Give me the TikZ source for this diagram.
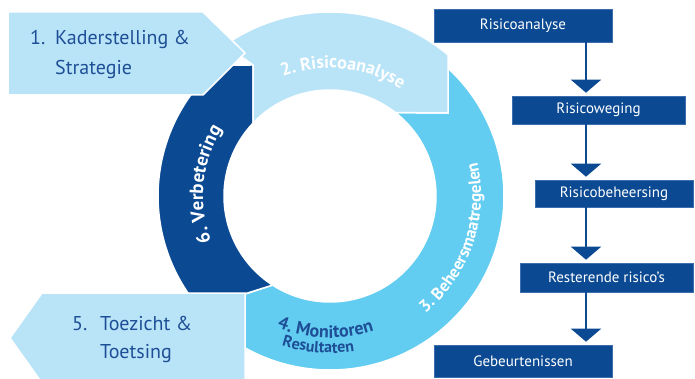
\documentclass[tikz,border=0pt]{standalone}
\usepackage{fontspec}
\setmainfont{PT Sans}
\usepackage{tikz}
\usetikzlibrary{arrows.meta,decorations.text,positioning}
\definecolor{lichtblauw}{HTML}{B9E4F8}
\definecolor{cyaan}{HTML}{62CCF1}
\definecolor{donkerblauw}{HTML}{0B4A93}
\definecolor{randblauw}{HTML}{3C6EAE}
\definecolor{tekstblauw}{HTML}{1E4F96}
\tikzset{
  segment/.style={draw=white, line width=1.5pt, line join=miter},
  fase/.style={fill=lichtblauw, draw=white, line width=1.5pt},
  kop/.style={text=tekstblauw, font=\fontsize{20}{20}\selectfont, anchor=base west, inner sep=0pt},
  stap/.style={fill=donkerblauw, draw=randblauw, line width=0.6pt, text=white,
    font=\fontsize{15}{15}\selectfont, inner sep=0pt},
  stappijl/.style={draw=donkerblauw, line width=2pt, -{Triangle[width=30pt,length=13pt]}, shorten >=3pt},
  boog/.style={decorate, decoration={text along path, text align=center, text color=#1}},
}

\begin{document}
\begin{tikzpicture}[x=1pt, y=1pt]
\useasboundingbox (0,0) rectangle (695,378);
\clip (0,0) rectangle (695,378);

% de cirkel
\begin{scope}[shift={(330,182)}]
\fill[cyaan, segment] (237.2:106) -- (220.7:174) arc[start angle=220.7, end angle=407.3, radius=174]
  -- (118,83) -- (51.9:106) arc[start angle=51.9, end angle=-122.8, radius=106] -- cycle;
\fill[donkerblauw, segment] (-77,131) -- (130.4:172) arc[start angle=130.4, end angle=220.7, radius=172]
  -- (237.2:106) arc[start angle=237.2, end angle=136.5, radius=106] -- cycle;
\fill[lichtblauw, segment] (136.5:106) -- (-77,131) -- (124.8:184) arc[start angle=124.8, end angle=50.1, radius=184]
  -- (118,83) -- (51.9:106) arc[start angle=51.9, end angle=136.5, radius=106] -- cycle;

\path[boog=white, decoration={text={|\fontsize{18}{18}\selectfont\bfseries|2. Risicoanalyse}}]
  (125:128) arc[start angle=125, end angle=43, radius=128];
\path[boog=white, decoration={text={|\fontsize{17}{17}\selectfont\bfseries|3. Beheersmaatregelen}}]
  (-68:151) arc[start angle=-68, end angle=30, radius=151];
\path[boog=tekstblauw, decoration={text={|\fontsize{18}{18}\selectfont\bfseries|4. Monitoren}}]
  (232:142) arc[start angle=232, end angle=304, radius=142];
\path[boog=tekstblauw, decoration={text={|\fontsize{16}{16}\selectfont\bfseries|Resultaten}}]
  (232:157) arc[start angle=232, end angle=299, radius=157];
\path[boog=white, decoration={text={|\fontsize{19}{19}\selectfont\bfseries|6. Verbetering}}]
  (222:127) arc[start angle=222, end angle=127, radius=127];
\end{scope}

% fase 1 en 5
\filldraw[fase] (8,366) -- (203,366) -- (245,325) -- (203,283) -- (8,283) -- cycle;
\filldraw[fase] (245,85) -- (42,85) -- (10,40) -- (42,-5) -- (245,-5) -- cycle;
\node[kop] (nr1) at (30,333) {1.};
\node[kop] (kader) at (55,333) {Kaderstelling \&};
\node[kop] (strategie) at (55,303) {Strategie};
\node[kop] (nr5) at (72,48) {5.};
\node[kop] (toezicht) at (100,48) {Toezicht \&};
\node[kop] (toetsing) at (100,20) {Toetsing};

% stappen rechts
\coordinate (as) at (586,0);
\node[stap, minimum width=178pt, minimum height=33pt] (analyse) at (523,352.5) {Risicoanalyse};
\node[stap, minimum width=173pt, minimum height=28pt] (weging) at (598.5,268) {Risicoweging};
\node[stap, minimum width=158pt, minimum height=27pt] (beheersing) at (614,184.5) {Risicobeheersing};
\node[stap, minimum width=173pt, minimum height=29pt] (rest) at (606.5,100.5) {Resterende risico’s};
\node[stap, minimum width=178pt, minimum height=32pt] (gebeurt) at (523,17) {Gebeurtenissen};
\draw[stappijl] (analyse.south -| as) -- (weging.north -| as);
\draw[stappijl] (weging.south -| as) -- (beheersing.north -| as);
\draw[stappijl] (beheersing.south -| as) -- (rest.north -| as);
\draw[stappijl] (rest.south -| as) -- (gebeurt.north -| as);
\end{tikzpicture}
\end{document}
